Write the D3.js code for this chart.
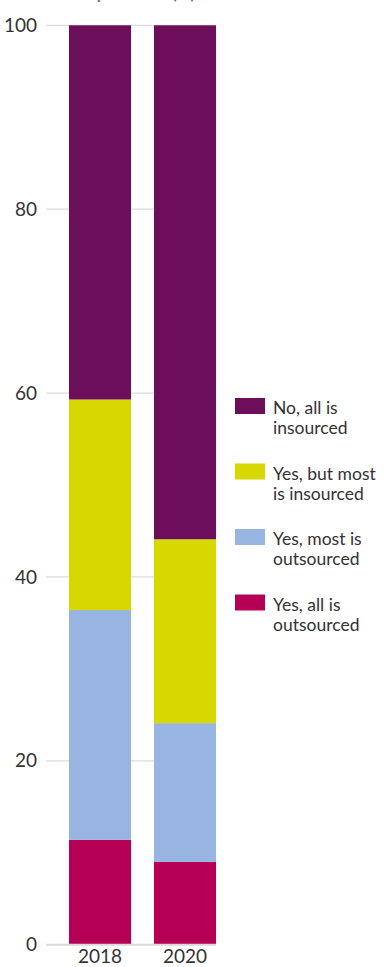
<!DOCTYPE html>
<html>
<head>
<meta charset="utf-8">
<script src="https://cdn.jsdelivr.net/npm/d3@7/dist/d3.min.js"></script>
<style>
  html, body { margin: 0; padding: 0; background: #fff; }
  svg { display: block; font-family: Lato, sans-serif; }
</style>
</head>
<body>
<svg id="chart" width="386" height="967"></svg>
<script>
// Survey years
const years = ["2018", "2020"];

// Series, stacked bottom to top (percent of respondents)
const seriesKeys = ["allOut", "mostOut", "mostIn", "allIn"];
const seriesLabels = {
  allIn: ["No, all is", "insourced"],
  mostIn: ["Yes, but most", "is insourced"],
  mostOut: ["Yes, most is", "outsourced"],
  allOut: ["Yes, all is", "outsourced"]
};
const seriesColors = {
  allIn: "#6c0e59",
  mostIn: "#d6d800",
  mostOut: "#98b4e0",
  allOut: "#b50056"
};
const allOut  = [11.4, 9.0];
const mostOut = [25.0, 15.1];
const mostIn  = [22.9, 20.0];
const allIn   = [40.7, 55.9];

const yTicks = [0, 20, 40, 60, 80, 100];
const legendOrder = ["allIn", "mostIn", "mostOut", "allOut"];

const rows = years.map((yr, i) => ({
  year: yr, allOut: allOut[i], mostOut: mostOut[i], mostIn: mostIn[i], allIn: allIn[i]
}));

const svg = d3.select("#chart");
const font = "Lato, sans-serif";

const x = d3.scaleBand().domain(years).range([46, 239]).paddingInner(0.27).paddingOuter(0.27);
const y = d3.scaleLinear().domain([0, 100]).range([944.7, 25.3]);

// Title (runs off the top edge)
svg.append("text")
  .attr("x", 8).attr("y", -1)
  .attr("fill", "#777").attr("font-weight", "bold").attr("font-size", 17)
  .text("Share of respondents (%)");

// Gridlines
svg.append("g").selectAll("line")
  .data(yTicks.filter(d => d > 0))
  .join("line")
  .attr("x1", 46).attr("x2", x("2020") + x.bandwidth())
  .attr("y1", d => y(d)).attr("y2", d => y(d))
  .attr("stroke", "#dcdcdc").attr("stroke-width", 1.2);

// Y axis labels
const yAxis = d3.axisLeft(y).tickValues(yTicks).tickSize(0).tickPadding(0);
const gy = svg.append("g").attr("transform", "translate(37,0)").call(yAxis);
gy.select(".domain").remove();
gy.selectAll("text").attr("font-size", 19).attr("fill", "#333").attr("font-family", font);

// Stacked bars
const stack = d3.stack().keys(seriesKeys)(rows);
svg.append("g").selectAll("g")
  .data(stack)
  .join("g")
  .attr("fill", d => seriesColors[d.key])
  .selectAll("rect")
  .data(d => d)
  .join("rect")
  .attr("x", d => x(d.data.year))
  .attr("width", x.bandwidth())
  .attr("y", d => y(d[1]))
  .attr("height", d => y(d[0]) - y(d[1]));

// Baseline
svg.append("line")
  .attr("x1", 46).attr("x2", x("2020") + x.bandwidth())
  .attr("y1", y(0)).attr("y2", y(0))
  .attr("stroke", "#d9d9d9").attr("stroke-width", 2);

// X axis labels
const xAxis = d3.axisBottom(x).tickSize(0).tickPadding(5);
const gx = svg.append("g").attr("transform", `translate(0,${y(0)})`).call(xAxis);
gx.select(".domain").remove();
gx.selectAll("text").attr("font-size", 19).attr("fill", "#333").attr("font-family", font);

// Legend: swatch plus a two-line label per series
const legend = svg.append("g").attr("transform", "translate(235,398)");
const item = legend.selectAll("g")
  .data(legendOrder)
  .join("g")
  .attr("transform", (d, i) => `translate(0,${i * 65.5})`);
item.append("rect")
  .attr("width", 30).attr("height", 16)
  .attr("fill", d => seriesColors[d]);
item.selectAll("text")
  .data(d => seriesLabels[d])
  .join("text")
  .attr("x", 38)
  .attr("y", (d, i) => 16 + i * 20)
  .attr("font-size", 17.5).attr("fill", "#333")
  .text(d => d);
</script>
</body>
</html>
